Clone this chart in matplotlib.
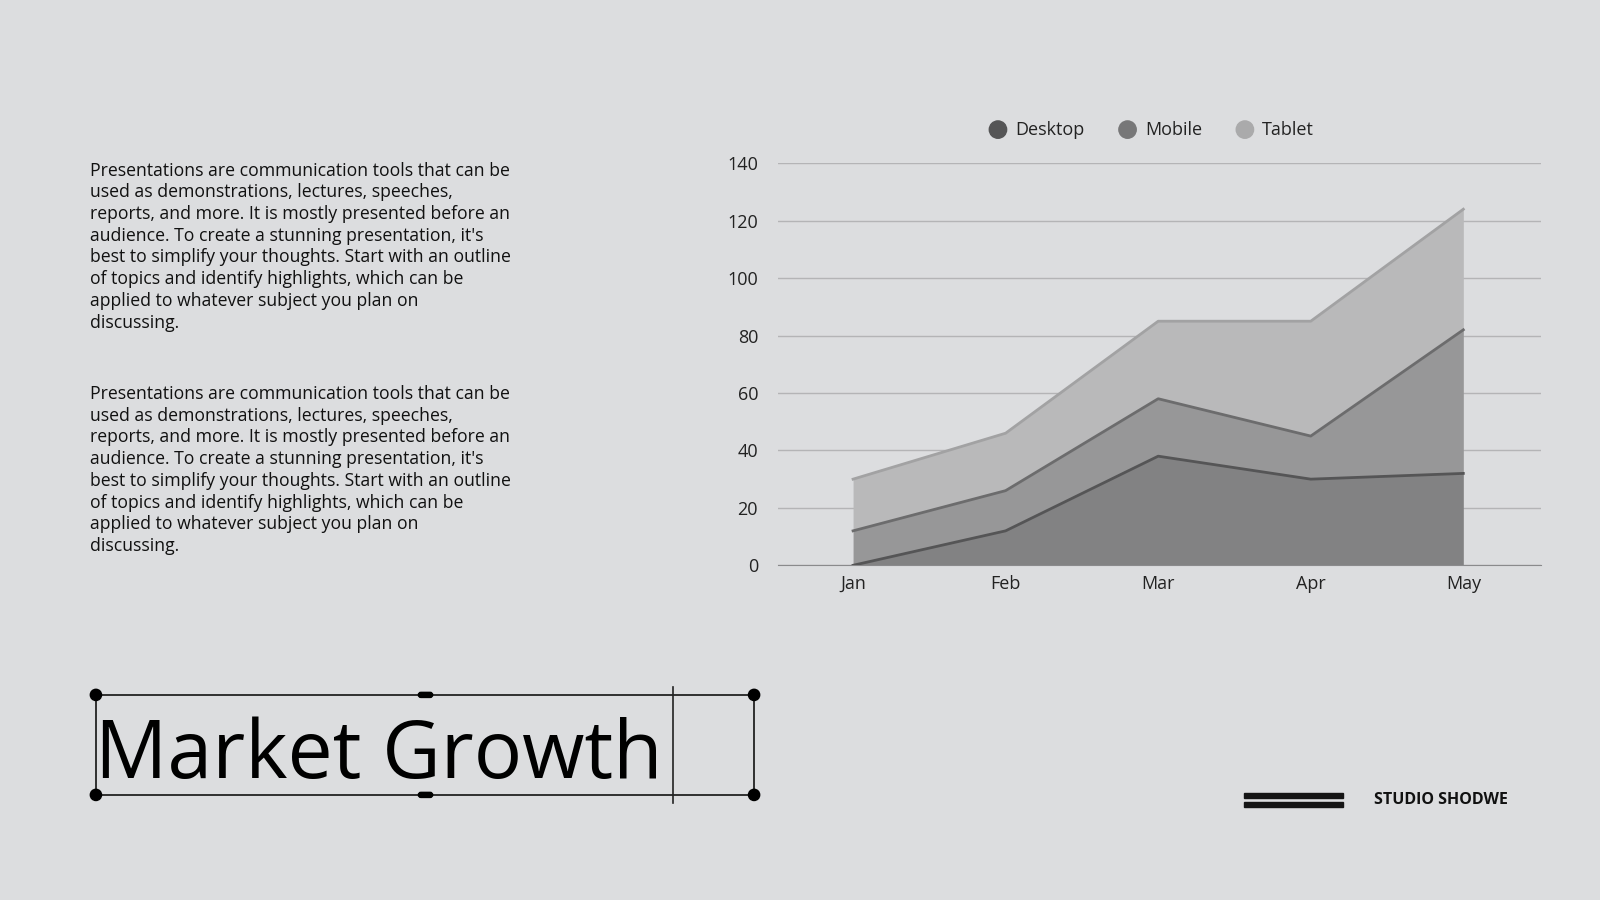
"""Market Growth slide: stacked area chart with text blocks."""

import matplotlib
matplotlib.use('Agg')
import matplotlib.pyplot as plt
from matplotlib.patches import Rectangle, Circle, FancyBboxPatch
import numpy as np

# Data ---------------------------------------------------------------------

months = ['Jan', 'Feb', 'Mar', 'Apr', 'May']
desktop = [0, 12, 38, 30, 32]
mobile = [12, 14, 20, 15, 50]
tablet = [18, 20, 27, 40, 42]
series_names = ['Desktop', 'Mobile', 'Tablet']
y_ticks = [0, 20, 40, 60, 80, 100, 120, 140]

paragraph = [
    "Presentations are communication tools that can be",
    "used as demonstrations, lectures, speeches,",
    "reports, and more. It is mostly presented before an",
    "audience. To create a stunning presentation, it's",
    "best to simplify your thoughts. Start with an outline",
    "of topics and identify highlights, which can be",
    "applied to whatever subject you plan on",
    "discussing.",
]
title = "Market Growth"
brand = "STUDIO SHODWE"

# Style --------------------------------------------------------------------

BG = '#dcdddf'
fills = ['#828283', '#979798', '#b9b9ba']
edges = ['#555556', '#6c6c6d', '#a2a2a3']
legend_dots = ['#555556', '#777778', '#aaaaab']
FONT = 'Open Sans'

plt.rcParams['font.family'] = [FONT, 'DejaVu Sans']

W, H = 1568, 882  # reference layout units (pixels)
fig = plt.figure(figsize=(16, 9), dpi=100)
fig.set_facecolor(BG)

# Overlay axes in reference pixel coordinates -------------------------------

over = fig.add_axes([0, 0, 1, 1])
over.set_xlim(0, W)
over.set_ylim(H, 0)
over.axis('off')
over.set_facecolor('none')

for start in (172, 391):
    for i, line in enumerate(paragraph):
        over.text(88, start + 21.3 * i, line, fontsize=12.7, color='#111111',
                  va='baseline', ha='left')

# Title and its selection box
over.text(93, 762, title, fontsize=58, color='black', va='baseline',
          ha='left')
over.add_patch(Rectangle((94, 681), 645, 98, fill=False, lw=1.3,
                         edgecolor='#222222'))
over.plot([660, 660], [673, 787], color='#222222', lw=1.2)
for cx, cy in [(94, 681), (739, 681), (94, 779), (739, 779)]:
    over.add_patch(Circle((cx, cy), 5.5, color='black'))
for cy in (681, 779):
    over.add_patch(FancyBboxPatch((410, cy - 2.5), 14, 5,
                                  boxstyle='round,pad=0,rounding_size=2.5',
                                  color='black'))

# Brand mark
for cy in (779.5, 788.5):
    over.add_patch(Rectangle((1219, cy - 2.5), 97, 5, color='#151515'))
over.text(1347, 784, brand, fontsize=11.5, fontweight='bold',
          color='#111111', va='center', ha='left')

# Legend
legend_x = [978, 1105, 1220]
for x, name, col in zip(legend_x, series_names, legend_dots):
    over.add_patch(Circle((x, 127), 8.5, color=col))
    over.text(x + 17, 127, name, fontsize=13, color='#222222',
              va='center', ha='left')

# Chart --------------------------------------------------------------------

ax = fig.add_axes([762 / W, 1 - 554 / H, (1510 - 762) / W, (554 - 160) / H])
ax.set_facecolor('none')
x = np.arange(len(months))
stack = np.vstack([desktop, mobile, tablet])
cum = np.cumsum(stack, axis=0)
base = np.zeros(len(months))
for k in range(3):
    ax.fill_between(x, base, cum[k], color=fills[k], lw=0, zorder=2)
    ax.plot(x, cum[k], color=edges[k], lw=2, zorder=3)
    base = cum[k]

ax.set_xlim(-0.495, 4.508)
ax.set_ylim(0, 140)
ax.set_yticks(y_ticks)
ax.set_xticks(x)
ax.set_xticklabels(months)
ax.grid(axis='y', color='#b4b4b6', lw=1, zorder=0)
ax.set_axisbelow(True)
for side in ('top', 'right', 'left'):
    ax.spines[side].set_visible(False)
ax.spines['bottom'].set_color('#8a8a8c')
ax.tick_params(axis='both', length=0, labelsize=13, colors='#222222')
ax.tick_params(axis='y', pad=14)
ax.tick_params(axis='x', pad=7)

fig.savefig('out.png', dpi=100, facecolor=BG)
